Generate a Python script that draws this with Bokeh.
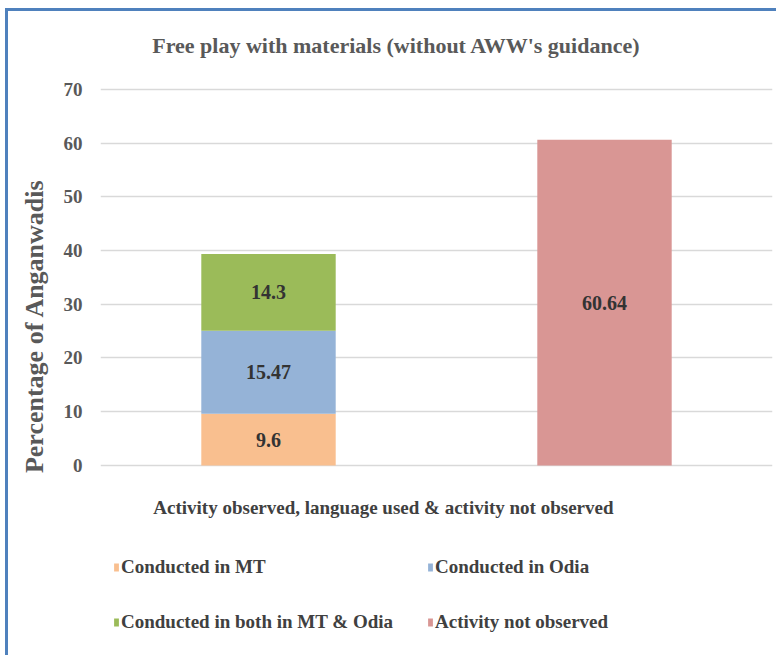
from bokeh.plotting import figure
from bokeh.models import (ColumnDataSource, FactorRange, FixedTicker, Legend,
                          LegendItem, LabelSet, Label, Range1d)
from bokeh.embed import file_html
from bokeh.resources import INLINE

# ---- data ----
categories = ["Activity observed", "Activity not observed"]
series_names = ["Conducted in MT", "Conducted in Odia",
                "Conducted in both in MT & Odia", "Activity not observed"]
mt_values = [9.6, 0]
odia_values = [15.47, 0]
both_values = [14.3, 0]
not_observed_values = [0, 60.64]
y_ticks = [0, 10, 20, 30, 40, 50, 60, 70]

title_text = "Free play with materials (without AWW's guidance)"
x_title = "Activity observed, language used & activity not observed"
y_title = "Percentage of Anganwadis"

colors = ["#F9BF8F", "#95B3D7", "#9BBB59", "#D99694"]
FONT = "Liberation Serif"
TXT = "#404040"

keys = ["mt", "odia", "both", "notobs"]
source = ColumnDataSource(dict(cat=categories, mt=mt_values, odia=odia_values,
                               both=both_values, notobs=not_observed_values))

# the plot frame spans the whole height so that title, x title and legend
# can sit inside it; only the 0-70 ticks/grid lines are drawn
p = figure(x_range=FactorRange(*categories, range_padding=0),
           y_range=Range1d(-32.6, 84.5),
           width=771, height=647, output_backend="svg", toolbar_location=None,
           x_axis_location=None, min_border_left=92, min_border_right=7,
           min_border_top=0, min_border_bottom=18)
p.styles = {"border-top": "3px solid #4F81BD", "border-left": "3px solid #4F81BD",
            "margin-left": "5px", "margin-top": "8px"}
p.outline_line_color = None
p.background_fill_color = "white"
p.border_fill_color = "white"

renderers = p.vbar_stack(keys, x="cat", width=0.4, color=colors,
                         line_color=None, source=source)

# labels in the middle of each non-zero segment
lab_x, lab_y, lab_t = [], [], []
for i, c in enumerate(categories):
    base = 0.0
    for arr in (mt_values, odia_values, both_values, not_observed_values):
        v = arr[i]
        if v > 0:
            lab_x.append(c)
            lab_y.append(base + v / 2.0)
            lab_t.append(f"{v:g}")
        base += v
lsrc = ColumnDataSource(dict(x=lab_x, y=lab_y, t=lab_t))
p.add_layout(LabelSet(x="x", y="y", text="t", source=lsrc, text_align="center",
                      text_baseline="middle", text_font=FONT,
                      text_font_style="bold", text_font_size="20px",
                      text_color="#333333"))

# y axis
p.yaxis.ticker = FixedTicker(ticks=y_ticks)
p.yaxis.axis_line_color = None
p.yaxis.major_tick_line_color = None
p.yaxis.minor_tick_line_color = None
p.yaxis.major_label_standoff = 12
p.yaxis.major_label_text_font = FONT
p.yaxis.major_label_text_font_style = "bold"
p.yaxis.major_label_text_font_size = "19px"
p.yaxis.major_label_text_color = "#595959"
p.yaxis.axis_label = y_title
p.yaxis.axis_label_text_font = FONT
p.yaxis.axis_label_text_font_style = "bold"
p.yaxis.axis_label_text_font_size = "26px"
p.yaxis.axis_label_text_color = "#595959"
p.yaxis.axis_label_standoff = 12

p.xgrid.grid_line_color = None
p.ygrid.grid_line_color = "#D9D9D9"
p.ygrid.grid_line_width = 1.5

# chart title and x-axis title
p.add_layout(Label(x=0.881, y=78.2, text=title_text, text_align="center",
                   text_baseline="middle", text_font=FONT,
                   text_font_style="bold", text_font_size="22px",
                   text_color="#595959"))
p.add_layout(Label(x=0.842, y=-7.8, text=x_title, text_align="center",
                   text_baseline="middle", text_font=FONT,
                   text_font_style="bold", text_font_size="19px",
                   text_color=TXT))

# legend: two columns
def make_legend(idx, loc):
    items = [LegendItem(label=series_names[i], renderers=[renderers[i]]) for i in idx]
    return Legend(items=items, location=loc, glyph_width=6, glyph_height=10,
                  label_height=20, spacing=33, label_standoff=2, padding=0,
                  margin=0, border_line_color=None, background_fill_alpha=0,
                  label_text_font=FONT, label_text_font_style="bold",
                  label_text_font_size="19px", label_text_color=TXT)

p.add_layout(make_legend([0, 2], (13, 7)), "center")
p.add_layout(make_legend([1, 3], (327, 7)), "center")

open("out.html", "w").write(file_html(p, INLINE))
